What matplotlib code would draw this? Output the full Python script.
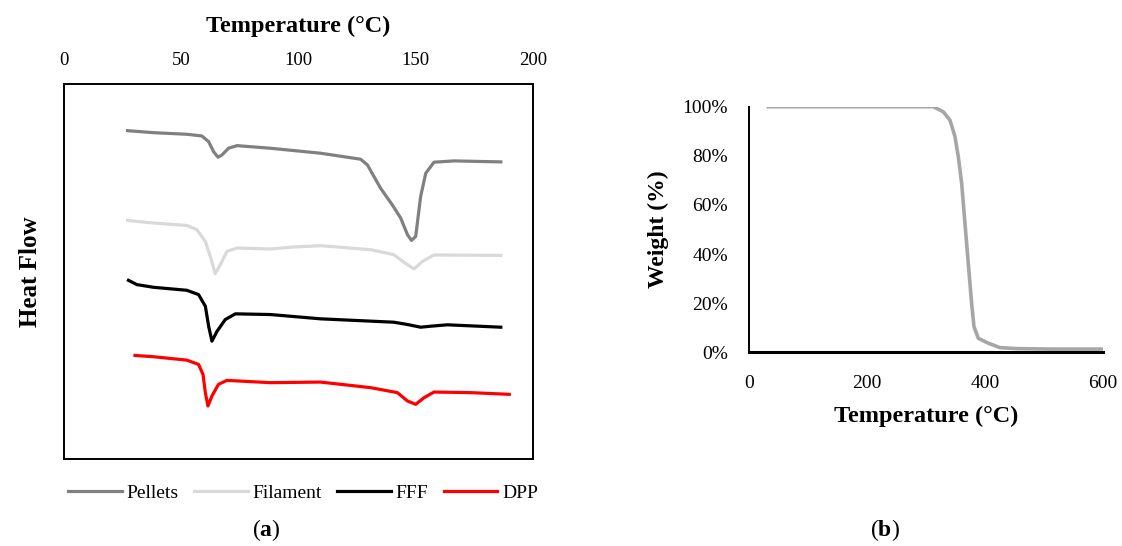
import matplotlib.pyplot as plt

plt.rcParams['font.family'] = ['Liberation Serif', 'DejaVu Serif']
plt.rcParams['mathtext.fontset'] = 'custom'
plt.rcParams['mathtext.bf'] = 'Liberation Serif:bold'
plt.rcParams['mathtext.rm'] = 'Liberation Serif'

# (a) DSC curves, heat flow in arbitrary units
pellets_t = [27.1, 38.2, 52.4, 58.8, 61.7, 63.8, 65.7, 67.4, 70.2, 73.8, 88, 109.4, 126.5, 129.4,
             135, 140, 143.6, 146.5, 148.2, 150, 152.1, 154.3, 157.8, 166.4, 186.3]
pellets_hf = [32.93, 32.73, 32.57, 32.4, 31.83, 30.83, 30.27, 30.5, 31.17, 31.43, 31.17, 30.67, 30.07, 29.5,
              27.17, 25.5, 24.17, 22.5, 21.93, 22.33, 26.33, 28.67, 29.77, 29.9, 29.8]

filament_t = [27.1, 38.2, 52.4, 56.7, 60.3, 62.4, 64.5, 66.7, 69.5, 73.8, 88, 98, 109.4, 130.8,
              140.7, 145, 149.3, 152.9, 157.8, 186.3]
filament_hf = [23.93, 23.67, 23.43, 23.0, 21.83, 20.33, 18.6, 19.5, 20.83, 21.17, 21.07, 21.27, 21.4, 21.0,
               20.5, 19.73, 19.07, 19.83, 20.47, 20.43]

fff_t = [27.5, 31.1, 38.2, 52.4, 57.4, 60.3, 61.7, 63.1, 65.3, 68.8, 73.1, 88, 109.4, 140.7,
         146.5, 152.1, 156.4, 163.5, 186.3]
fff_hf = [17.93, 17.5, 17.23, 16.93, 16.5, 15.33, 13.33, 11.83, 12.83, 14.0, 14.57, 14.5, 14.07, 13.73,
          13.5, 13.23, 13.33, 13.47, 13.23]

dpp_t = [30.3, 38.2, 52.4, 57.4, 59.3, 60.3, 61.4, 63.1, 65.9, 69.5, 88, 109.4, 130.8, 142.2,
         146.5, 150, 153.6, 157.8, 173.5, 189.9]
dpp_hf = [10.4, 10.27, 9.93, 9.5, 8.5, 6.67, 5.33, 6.33, 7.5, 7.9, 7.67, 7.73, 7.17, 6.67,
          5.83, 5.5, 6.17, 6.73, 6.67, 6.5]

# (b) TGA curve
tga_t = [32.7, 150, 255.9, 312.4, 329.4, 340.7, 349.2, 354.8, 360.5, 366.1, 371.7, 377.4,
         381.4, 388.7, 405.6, 425.4, 453.7, 510, 600]
tga_w = [100, 100, 100, 100, 97.9, 94.5, 87.8, 79.6, 68.8, 52.5, 36.2, 19.9,
         10.4, 5.7, 3.7, 1.9, 1.5, 1.3, 1.3]

fig = plt.figure(figsize=(11.22, 5.46), dpi=100)

ax1 = fig.add_axes([0.057, 0.159, 0.418, 0.687])
ax1.plot(pellets_t, pellets_hf, color='#808080', lw=2.3, label='Pellets')
ax1.plot(filament_t, filament_hf, color='#d9d9d9', lw=2.3, label='Filament')
ax1.plot(fff_t, fff_hf, color='black', lw=2.3, label='FFF')
ax1.plot(dpp_t, dpp_hf, color='red', lw=2.3, label='DPP')
ax1.set_xlim(0, 200)
ax1.set_ylim(0, 37.6)
ax1.xaxis.tick_top()
ax1.xaxis.set_label_position('top')
ax1.set_xticks([0, 50, 100, 150, 200])
ax1.tick_params(axis='x', length=0, pad=11, labelsize=13.5)
ax1.set_yticks([])
ax1.set_xlabel('Temperature (°C)', fontsize=17.5, fontweight='bold', labelpad=14)
ax1.set_ylabel('Heat Flow', fontsize=18, fontweight='bold', labelpad=16)
for s in ax1.spines.values():
    s.set_linewidth(1.4)
ax1.legend(loc='upper center', bbox_to_anchor=(0.51, -0.02), ncol=4, frameon=False,
           fontsize=14, handlelength=2.75, handletextpad=0.25, columnspacing=0.8)
fig.text(0.237, 0.029, r'($\mathbf{a}$)', ha='center', va='center', fontsize=17)

ax2 = fig.add_axes([0.6676, 0.3548, 0.3154, 0.4498])
ax2.plot(tga_t, tga_w, color='#a6a6a6', lw=2.6)
ax2.set_xlim(0, 600)
ax2.set_ylim(0, 100)
ax2.set_xticks([0, 200, 400, 600])
ax2.set_yticks([0, 20, 40, 60, 80, 100])
ax2.set_yticklabels([f'{v}%' for v in [0, 20, 40, 60, 80, 100]])
ax2.tick_params(length=0, labelsize=14)
ax2.tick_params(axis='x', pad=16)
ax2.tick_params(axis='y', pad=15)
ax2.spines['top'].set_visible(False)
ax2.spines['right'].set_visible(False)
ax2.spines['left'].set_linewidth(1.4)
ax2.spines['bottom'].set_linewidth(2.2)
ax2.set_xlabel('Temperature (°C)', fontsize=17.5, fontweight='bold', labelpad=10)
ax2.set_ylabel('Weight (%)', fontsize=17, fontweight='bold', labelpad=10)
fig.text(0.789, 0.029, r'($\mathbf{b}$)', ha='center', va='center', fontsize=17)

fig.savefig('out.png', dpi=100)
